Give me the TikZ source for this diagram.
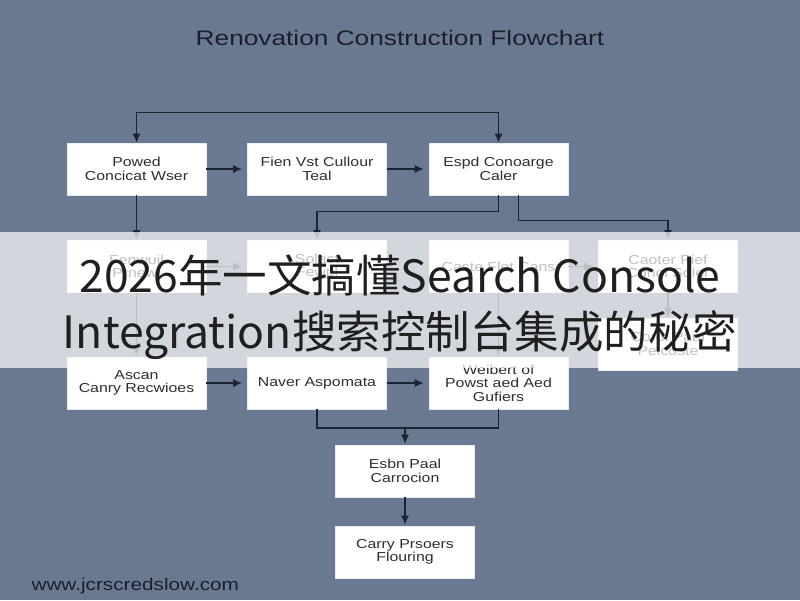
\documentclass[tikz,border=0pt]{standalone}
\usepackage{fontspec}
\setmainfont{Liberation Sans}
\newfontfamily\titlefont{Liberation Sans}[FakeStretch=1.25]
\newfontfamily\boxfont{Liberation Sans}[FakeStretch=1.22]
\newfontfamily\cjk{Noto Sans CJK SC}
\usetikzlibrary{arrows.meta}
\definecolor{bg}{HTML}{6A7992}
\definecolor{ln}{HTML}{1C2333}
\definecolor{tx}{HTML}{2E2E2E}
\definecolor{ttl}{HTML}{1A1F2B}
\begin{document}
\begin{tikzpicture}[x=1pt,y=-1pt,
  stepbox/.style={draw=white!85!gray, line width=0.6pt, fill=white, minimum width=139pt, minimum height=52pt, inner sep=2pt, align=center, font=\boxfont\fontsize{13}{13.5}\selectfont, text=tx},
  plainline/.style={draw=ln, line width=1.5pt},
  conn/.style={plainline, -{Latex[length=9pt,width=8pt]}, shorten >=1pt},
  bothconn/.style={plainline, {Latex[length=9pt,width=8pt]}-{Latex[length=9pt,width=8pt]}},
  ]
\fill[bg] (0,0) rectangle (800,600);
\useasboundingbox (0,0) rectangle (800,600);

\node[font=\titlefont\fontsize{21}{21}\selectfont, text=ttl] (title) at (400,38) {Renovation Construction Flowchart};

% row 1
\node[stepbox] (a1) at (136.5,169) {Powed\\Concicat Wser};
\node[stepbox] (b1) at (317,169) {Fien Vst Cullour\\Teal};
\node[stepbox] (c1) at (498.5,169) {Espd Conoarge\\Caler};
% row 2
\node[stepbox] (a2) at (136.5,266.5) {Fenwuil\\Prnewl};
\node[stepbox] (b2) at (317,266.5) {Solact\\Fewpl};
\node[stepbox] (c2) at (498.5,266.5) {Caste Flet Cans};
\node[stepbox] (d2) at (668,266.5) {Caoter Pief\\Conol Soler};
\node[stepbox] (d3) at (668,344) {Corol Pauf\\Peicoste};
% row 3
\node[stepbox] (a3) at (136.5,383) {Ascan\\Canry Recwioes};
\node[stepbox] (b3) at (317,383) {Naver Aspomata};
\node[stepbox] (c3) at (498.5,383) {Weibert of\\Powst aed Aed\\Gufiers};
% rows 4,5
\node[stepbox] (r4) at (405,471) {Esbn Paal\\Carrocion};
\node[stepbox] (r5) at (405,552) {Carry Prsoers\\Flouring};

% connectors
\draw[bothconn] (a1.north) -- ++(0,-30) -| (c1.north);
\draw[conn, shorten >=5pt] (a1) -- (b1);
\draw[conn, shorten >=5pt] (b1) -- (c1);
\draw[conn] (a1) -- (a2);
\draw[conn] (c1.south) -- ++(0,16) -| (b2.north);
\draw[conn] ([xshift=20pt]c1.south) -- ++(0,25) -| (d2.north);
\draw[conn, shorten >=5pt] (a2) -- (b2);
\draw[conn, shorten >=5pt] (c2) -- (d2);
\draw[conn] (a2) -- (a3);
\draw[conn] (d2) -- (d3);
\draw[conn] (c2) -- (c3);
\draw[conn, shorten >=5pt] (a3) -- (b3);
\draw[conn, shorten >=5pt] (b3) -- (c3);
\coordinate (j) at (405,428);
\draw[plainline] (b3.south) |- (j) -| (c3.south);
\draw[conn] (j) -- (r4.north);
\draw[conn] (r4) -- (r5);

\node[anchor=west, font=\boxfont\fontsize{17}{17}\selectfont, text=ttl] (wm) at (28,586) {www.jcrscredslow.com};

% banner
\fill[white, opacity=0.7] (0,232) rectangle (800,368);
\node[font=\cjk\fontsize{44.5}{56}\selectfont, align=center, text=black!88] (banner) at (400,307) {2026年一文搞懂Search Console\\Integration搜索控制台集成的秘密};
\end{tikzpicture}
\end{document}
